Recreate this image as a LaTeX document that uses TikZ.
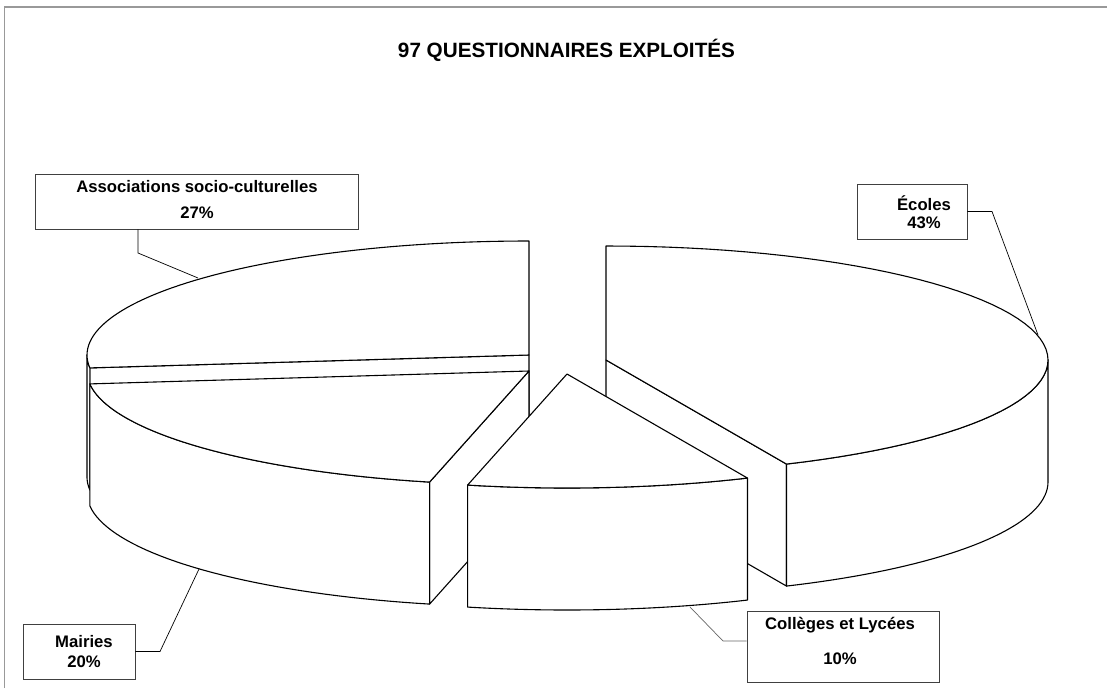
\documentclass[tikz,border=0pt]{standalone}
\usepackage{fontspec}
\setmainfont{Liberation Sans}
\usepackage{tikz}

% pie geometry (pixels)
\newcommand{\pierx}{442}
\newcommand{\piery}{114}
\newcommand{\piedepth}{122}

% top face of a slice: apex x, apex y, from, to
\newcommand{\slicetop}[4]{%
  \filldraw[pieface] (#1,#2) -- plot[domain=#3:#4, samples=60] ({#1+\pierx*cos(\x)},{#2-\piery*sin(\x)}) -- cycle;}
% outer curved side of a slice
\newcommand{\sliceside}[4]{%
  \filldraw[pieface] plot[domain=#3:#4, samples=40] ({#1+\pierx*cos(\x)},{#2-\piery*sin(\x)})
    -- plot[domain=#4:#3, samples=40] ({#1+\pierx*cos(\x)},{#2+\piedepth-\piery*sin(\x)}) -- cycle;}
% flat cut face of a slice at one angle
\newcommand{\slicecut}[3]{%
  \filldraw[pieface] (#1,#2) -- ({#1+\pierx*cos(#3)},{#2-\piery*sin(#3)}) -- ++(0,\piedepth) -- (#1,#2+\piedepth) -- cycle;}

\tikzset{
  pieface/.style={fill=white, draw=black, line width=1.1pt, line join=round},
  lblbox/.style={draw=black!75, line width=0.9pt, inner sep=0pt},
  lbltext/.style={align=center, inner sep=0pt, font=\bfseries\fontsize{16.7}{#1}\selectfont},
  leader/.style={draw=black, line width=0.7pt},
}

\begin{document}
\begin{tikzpicture}[x=1pt, y=-1pt]

        \useasboundingbox (0,0) rectangle (1107,688);
        \draw[black!40, line width=1.5pt] (4.5,688) -- (4.5,7) -- (1107,7);

        \node[font=\bfseries\fontsize{20.7}{24}\selectfont] (title) at (566.5,50) {97 QUESTIONNAIRES EXPLOITÉS};

        % Associations socio-culturelles
        \slicecut{529}{355}{186.5}
        \sliceside{529}{355}{180}{186.5}
        \slicetop{529}{355}{90}{186.5}

        % Ecoles
        \slicecut{606}{360}{294.1}
        \sliceside{606}{360}{294.1}{360}
        \slicetop{606}{360}{294.1}{450}

        % Mairies
        \slicecut{529}{371}{257}
        \sliceside{529}{371}{186.5}{257}
        \slicetop{529}{371}{186.5}{257}

        % Colleges et Lycees
        \sliceside{567}{374}{257}{294.1}
        \slicetop{567}{374}{257}{294.1}

        % labels
        \node[lblbox, minimum width=323pt, minimum height=55pt] (assocbox) at (196.5,201.5) {};
        \node[lbltext=26] (assoc) at (197,200) {Associations socio-culturelles\\27\%};
        \node[lblbox, minimum width=110pt, minimum height=55pt] (ecolesbox) at (912,211.5) {};
        \node[lbltext=18] (ecoles) at (924,212.5) {Écoles\\43\%};
        \node[lblbox, minimum width=112pt, minimum height=55pt] (mairiesbox) at (79,651.5) {};
        \node[lbltext=20] (mairies) at (84,652) {Mairies\\20\%};
        \node[lblbox, minimum width=192pt, minimum height=71pt] (collegesbox) at (843,646.5) {};
        \node[lbltext=35] (colleges) at (840,640.5) {Collèges et Lycées\\10\%};

        % leader lines
        \coordinate (assocbend) at (138,253);
        \coordinate (assocpin) at (198,278);
        \coordinate (ecolesbend) at (992,211.5);
        \coordinate (ecolespin) at (1038,335);
        \coordinate (mairiesbend) at (160,651.5);
        \coordinate (mairiespin) at (199,569);
        \coordinate (collegesbend) at (723,641);
        \coordinate (collegespin) at (690,607);

        \draw[leader] (assocbox.south -| assocbend) -- (assocbend) -- (assocpin);
        \draw[leader] (ecolesbox.east) -- (ecolesbend) -- (ecolespin);
        \draw[leader] (mairiesbox.east) -- (mairiesbend) -- (mairiespin);
        \draw[leader, black!60] (collegesbend -| collegesbox.west) -- (collegesbend) -- (collegespin);

\end{tikzpicture}
\end{document}
